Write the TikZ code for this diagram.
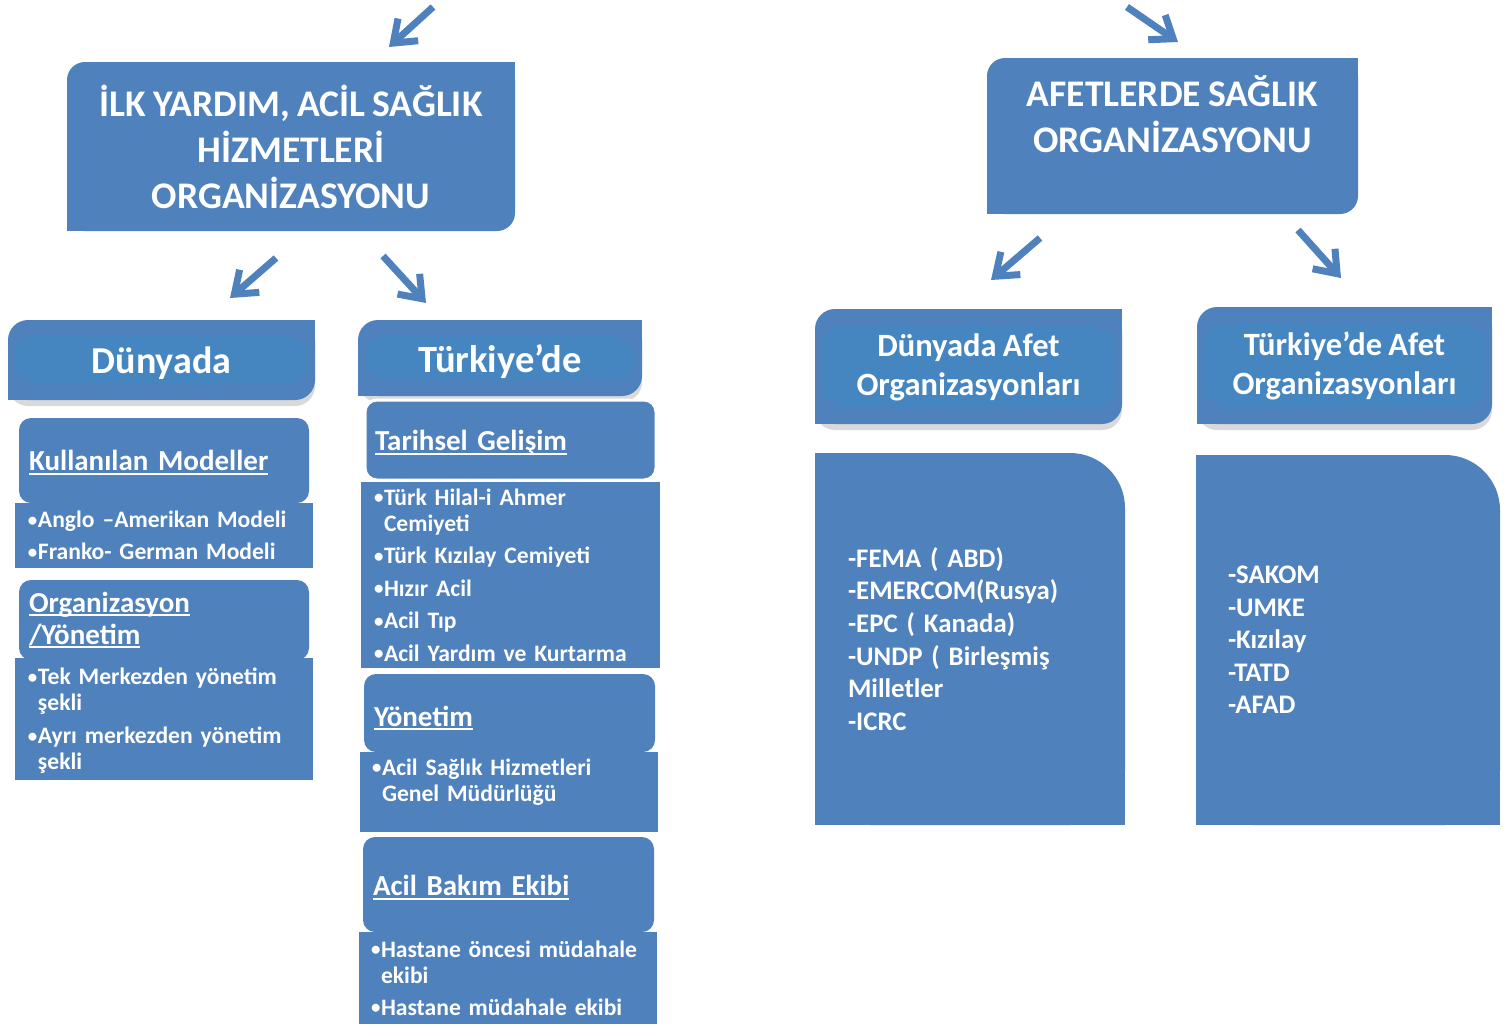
\documentclass[tikz,border=0pt]{standalone}
\usepackage{fontspec}
\usepackage{graphicx}
\setmainfont[WordSpace=0.85]{Carlito}
\usetikzlibrary{arrows.meta,shadows}
\definecolor{boxblue}{HTML}{4F81BD}
\definecolor{bandblue}{HTML}{4686C0}
\newcommand{\uln}[1]{\leavevmode\setbox0\hbox{#1}\rlap{\rule[-4pt]{\wd0}{2pt}}\box0}
\newcommand{\dropby}[2]{\raisebox{-#1}[\height][\depth]{#2}}
\newcommand{\bu}{\makebox[11pt][l]{\hspace{1pt}\raisebox{1.5pt}{\scalebox{.8}{\textbullet}}}}

\begin{document}
\begin{tikzpicture}[x=1pt, y=-1pt,
  arr/.style={boxblue, line width=7pt, -{Straight Barb[length=20pt,width=30pt]}},
  big/.style={fill=boxblue, rounded corners=18pt, text=white, align=center, inner sep=0pt,
    font=\fontsize{37.6}{46}\selectfont\bfseries},
  head/.style={fill=boxblue, rounded corners=20pt, text=white, align=center, inner sep=0pt,
    drop shadow={shadow xshift=0pt, shadow yshift=-6pt, opacity=.3},
    path picture={\fill[bandblue] ([xshift=7pt,yshift=-16pt]path picture bounding box.north west)
      rectangle ([xshift=-7pt,yshift=16pt]path picture bounding box.south east);}},
  sub/.style={fill=boxblue, rounded corners=12pt, text=white, align=left, inner xsep=10pt, inner ysep=0pt,
    font=\fontsize{29}{32}\selectfont\bfseries},
  bul/.style={fill=boxblue, text=white, align=left, inner sep=0pt,
    font=\fontsize{23.6}{26}\selectfont\bfseries},
  lst/.style={fill=boxblue, rounded corners=55pt, text=white, align=left, inner ysep=0pt, inner xsep=33pt,
    font=\fontsize{26.8}{32.6}\selectfont\bfseries},
]
\useasboundingbox (0,0) rectangle (1510,1026);

% ilk yardim side
\node[big, minimum width=448pt, minimum height=169pt] (ilk) at (291,146.5)
  {İLK YARDIM, ACİL SAĞLIK\\HİZMETLERİ\\ORGANİZASYONU};

\node[head, minimum width=307pt, minimum height=80pt, font=\fontsize{38}{44}\selectfont\bfseries] (dun)
  at (161.5,360) {\dropby{3pt}{Dünyada}};
\node[head, minimum width=284pt, minimum height=76pt, font=\fontsize{38.5}{44}\selectfont\bfseries] (tur)
  at (500,358) {\dropby{4pt}{Türkiye’de}};

\node[sub, text width=270pt, minimum height=85pt] (km) at (164,460.5) {\dropby{2pt}{\uln{Kullanılan Modeller}}};
\node[bul, text width=274pt, inner xsep=12pt, minimum height=65pt] (kmb) at (164,535.5)
  {\dropby{3pt}{\begin{tabular}{@{}l@{}l@{}}\bu&Anglo –Amerikan Modeli\\[6pt]
   \bu&Franko- German Modeli\end{tabular}}};

\node[sub, text width=270pt, minimum height=80pt] (org) at (164,620) {\uln{Organizasyon}\\\uln{/Yönetim}};
\node[bul, text width=274pt, inner xsep=12pt, minimum height=122pt] (orgb) at (164,719)
  {\dropby{3pt}{\begin{tabular}{@{}l@{}l@{}}\bu&Tek Merkezden yönetim\\&şekli\\[7pt]
   \bu&Ayrı merkezden yönetim\\&şekli\end{tabular}}};

\node[sub, draw=white, line width=3pt, text width=271pt, minimum height=80pt] (tg) at (510.5,440)
  {\dropby{3pt}{\uln{Tarihsel Gelişim}}};
\node[bul, text width=275pt, inner xsep=12pt, minimum height=186pt] (tgb) at (510.5,575)
  {\dropby{3pt}{\begin{tabular}{@{}l@{}l@{}}\bu&Türk Hilal-i Ahmer\\&Cemiyeti\\[6.5pt]
   \bu&Türk Kızılay Cemiyeti\\[6.5pt]
   \bu&Hızır Acil\\[6.5pt]
   \bu&Acil Tıp\\[6.5pt]
   \bu&Acil Yardım ve Kurtarma\end{tabular}}};

\node[sub, text width=271pt, minimum height=78pt] (yon) at (509.5,713) {\dropby{5pt}{\uln{Yönetim}}};
\node[bul, text width=276pt, inner xsep=11pt, minimum height=80pt] (yonb) at (509,792)
  {\dropby{3pt}{\begin{tabular}{@{}l@{}l@{}}\bu&Acil Sağlık Hizmetleri\\&Genel Müdürlüğü\\[24pt]\end{tabular}}};

\node[sub, text width=271pt, minimum height=95pt] (abe) at (508.5,884.5) {\dropby{3pt}{\uln{Acil Bakım Ekibi}}};
\node[bul, text width=276pt, inner xsep=11pt, minimum height=92pt] (abeb) at (508,978)
  {\dropby{3pt}{\begin{tabular}{@{}l@{}l@{}}\bu&Hastane öncesi müdahale\\&ekibi\\[6pt]
   \bu&Hastane müdahale ekibi\end{tabular}}};

% afet side
\node[big, minimum width=371pt, minimum height=156pt] (afet) at (1172.5,136)
  {\begin{tabular}{@{}c@{}}AFETLERDE SAĞLIK\\ORGANİZASYONU\\[31pt]\end{tabular}};

\node[head, minimum width=307pt, minimum height=115pt, font=\fontsize{32.5}{39}\selectfont\bfseries] (dafet)
  at (968.5,366.5) {\dropby{2pt}{\begin{tabular}{@{}c@{}}Dünyada Afet\\Organizasyonları\end{tabular}}};
\node[head, minimum width=295pt, minimum height=117pt, font=\fontsize{32.5}{39}\selectfont\bfseries] (tafet)
  at (1344.5,365.5) {\dropby{2pt}{\begin{tabular}{@{}c@{}}Türkiye’de Afet\\Organizasyonları\end{tabular}}};

\node[lst, text width=244pt, minimum height=372pt] (dlist) at (970,639)
  {-FEMA ( ABD)\\-EMERCOM(Rusya)\\-EPC ( Kanada)\\-UNDP ( Birleşmiş\\Milletler\\-ICRC};
\node[lst, text width=240pt, inner xsep=32pt, minimum height=370pt] (tlist) at (1348,640)
  {-SAKOM\\-UMKE\\-Kızılay\\-TATD\\-AFAD};

% square off the corners that are not rounded
\foreach \n/\a/\dx/\dy/\r in {ilk/north east/-1/-1/20, ilk/south west/1/1/20,
    afet/north east/-1/-1/20, afet/south west/1/1/20,
    dun/north east/-1/-1/22, dun/south west/1/1/22, tur/north east/-1/-1/22, tur/south west/1/1/22,
    dafet/north east/-1/-1/22, dafet/south west/1/1/22, tafet/north east/-1/-1/22, tafet/south west/1/1/22,
    dlist/north west/1/-1/57, dlist/south west/1/1/57, dlist/south east/-1/1/57,
    tlist/north west/1/-1/57, tlist/south west/1/1/57, tlist/south east/-1/1/57}
  \fill[boxblue] (\n.\a) rectangle ([xshift=\dx*\r pt, yshift=\dy*\r pt]\n.\a);

% arrows
\coordinate (t1) at (433,7);    \coordinate (h1) at (389,47);
\coordinate (t2) at (276,258);  \coordinate (h2) at (230,298);
\coordinate (t3) at (383,256);  \coordinate (h3) at (426,303);
\coordinate (t4) at (1127,7);   \coordinate (h4) at (1178,42);
\coordinate (t5) at (1040,238); \coordinate (h5) at (991,280);
\coordinate (t6) at (1298,230); \coordinate (h6) at (1341,278);

\draw[arr] (t1) -- (h1);
\draw[arr] (t2) -- (h2);
\draw[arr] (t3) -- (h3);
\draw[arr] (t4) -- (h4);
\draw[arr] (t5) -- (h5);
\draw[arr] (t6) -- (h6);

\end{tikzpicture}
\end{document}
